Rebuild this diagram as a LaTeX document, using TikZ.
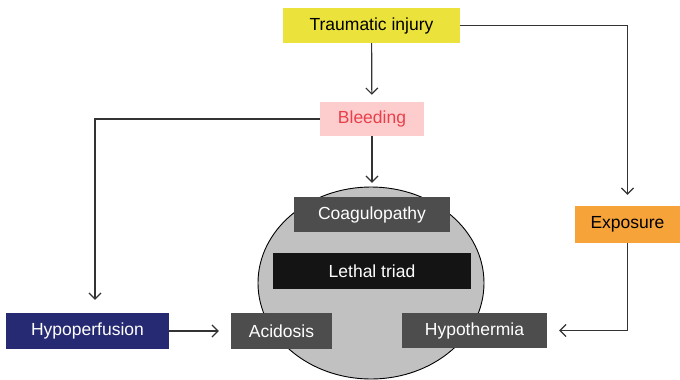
\documentclass[tikz,border=0pt]{standalone}
\usepackage{fontspec}
\setmainfont{Liberation Sans}
\usetikzlibrary{arrows.meta}
\definecolor{cyel}{HTML}{EBE33B}
\definecolor{cpink}{HTML}{FDCDCD}
\definecolor{cred}{HTML}{E8404A}
\definecolor{corange}{HTML}{F6A33A}
\definecolor{cnavy}{HTML}{262A72}
\definecolor{cdark}{HTML}{4D4D4D}
\definecolor{cblack}{HTML}{141414}
\definecolor{cgrey}{HTML}{C0C1C0}
\definecolor{cline}{HTML}{333333}
\begin{document}
\begin{tikzpicture}[x=1pt,y=-1pt,
  box/.style={inner sep=0pt,minimum height=35pt,font=\fontsize{17.5}{20}\selectfont},
  conn/.style={draw=cline,line width=1.2pt,-{Straight Barb[length=6pt,width=12pt]}}]
\useasboundingbox (0,0) rectangle (680,380);
\draw[fill=cgrey,line width=0.9pt] (371,283) ellipse [x radius=113, y radius=96];
\node[box,fill=cyel,text=black,minimum width=177pt] (ti) at (371.5,25.5) {Traumatic injury};
\node[box,fill=cpink,text=cred,minimum width=104pt,minimum height=34pt] (bl) at (372,119) {Bleeding};
\node[box,fill=corange,text=black,minimum width=105pt,minimum height=37pt] (ex) at (627.5,224.5) {Exposure};
\node[box,fill=cdark,text=white,minimum width=156pt] (co) at (372,214.5) {Coagulopathy};
\node[box,fill=cblack,text=white,minimum width=198pt,minimum height=36pt] (lt) at (372,271) {Lethal triad};
\node[box,fill=cnavy,text=white,minimum width=163pt,minimum height=36pt] (hp) at (87.5,331) {Hypoperfusion};
\node[box,fill=cdark,text=white,minimum width=101pt,minimum height=36pt] (ac) at (281.5,331) {Acidosis};
\node[box,fill=cdark,text=white,minimum width=145pt] (hy) at (474.5,330.5) {Hypothermia};
\draw[conn,shorten >=7pt] (ti) -- (bl);
\draw[conn,shorten >=11pt] (ti.east) -| (ex.north);
\draw[conn,shorten >=13pt] (bl.west) -| (hp.north -| 95,0);
\draw[conn,shorten >=14pt] (bl) -- (co);
\draw[conn,shorten >=12pt] (hp.east) -- (ac.west);
\draw[conn,shorten >=12pt] (ex.south) |- (hy.east);
\end{tikzpicture}
\end{document}
